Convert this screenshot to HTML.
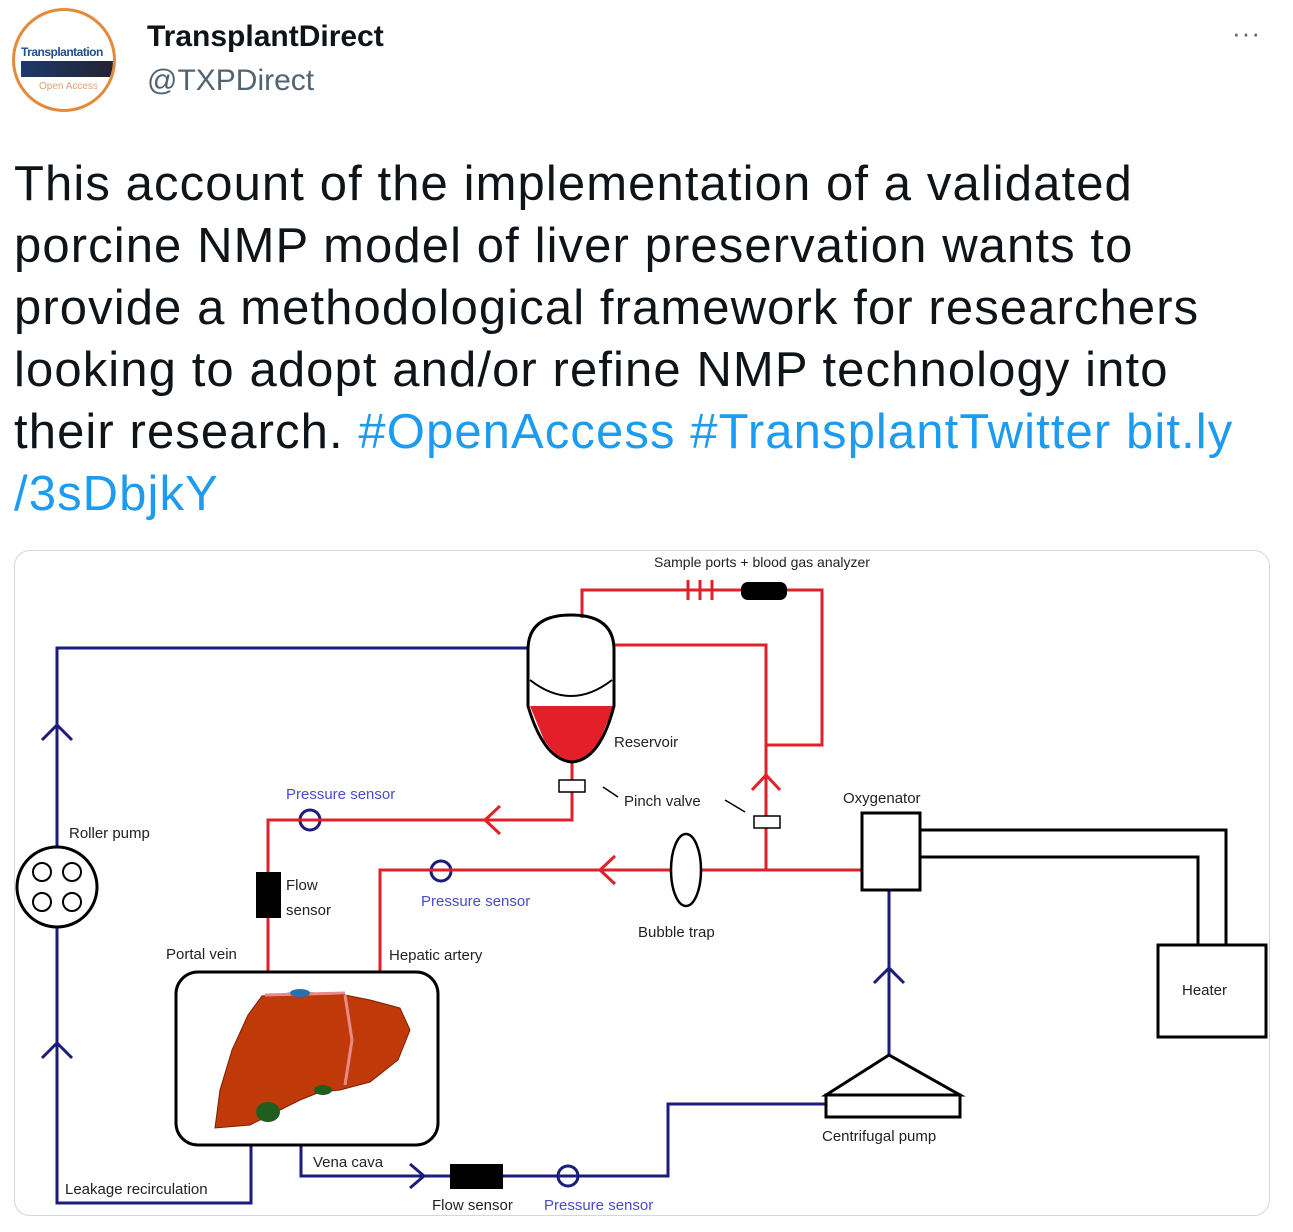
<!DOCTYPE html>
<html><head><meta charset="utf-8"><style>
body{margin:0;width:1293px;height:1232px;background:#fff;font-family:"Liberation Sans",sans-serif;position:relative;overflow:hidden}
.t{position:absolute;left:14px;top:153px;font-size:49px;letter-spacing:1.1px;line-height:62px;color:#0f1419;white-space:nowrap}
.t a{color:#1d9bf0;text-decoration:none}
</style></head><body>
<div style="position:absolute;left:12px;top:8px;width:104px;height:104px;border-radius:50%;border:3px solid #e48a3b;box-sizing:border-box;background:#fff;overflow:hidden">
<div style="position:absolute;left:6px;top:34px;font-size:12px;font-weight:bold;color:#1f4e8c;letter-spacing:-0.5px">Transplantation</div>
<div style="position:absolute;left:6px;top:50px;width:92px;height:16px;background:linear-gradient(90deg,#1e3a6a,#223);"></div>
<div style="position:absolute;left:24px;top:70px;font-size:10px;color:#e0a070">Open Access</div>
</div>
<div style="position:absolute;left:147px;top:20px;font-size:30px;font-weight:bold;color:#0f1419">TransplantDirect</div>
<div style="position:absolute;left:147px;top:64px;font-size:30px;color:#536471">@TXPDirect</div>
<div style="position:absolute;left:1232px;top:18px;font-size:26px;color:#536471;letter-spacing:1px">···</div>
<div class="t">This account of the implementation of a validated<br>porcine NMP model of liver preservation wants to<br>provide a methodological framework for researchers<br>looking to adopt and/or refine NMP technology into<br>their research. <a>#OpenAccess</a> <a>#TransplantTwitter</a> <a>bit.ly</a><br><a>/3sDbjkY</a></div>
<div style="position:absolute;left:14px;top:550px;width:1256px;height:666px;border:1px solid #cfd9de;border-radius:16px;box-sizing:border-box"></div>
<svg style="position:absolute;left:0;top:0" width="1293" height="1232" font-family="Liberation Sans, sans-serif" font-size="15">
<g fill="none" stroke-width="3" stroke-linejoin="miter">
<g stroke="#1c1c7e">
<polyline points="528,648 57,648 57,1203 251,1203 251,1146"/>
<polyline points="301,1146 301,1176 450,1176"/>
<polyline points="503,1176 668,1176 668,1104 826,1104"/>
<line x1="889" y1="1055" x2="889" y2="890"/>
<polyline points="42,740 57,725 72,740"/><polyline points="42,1058 57,1043 72,1058"/>
<polyline points="874,983 889,968 904,983"/><polyline points="410,1164 424,1176 410,1188"/>
<circle cx="568" cy="1176" r="10"/><circle cx="310" cy="820" r="10"/><circle cx="441" cy="871" r="10"/>
</g>
<g stroke="#e3202a">
<polyline points="862,870 380,870 380,972"/>
<polyline points="572,762 572,820 268,820 268,972"/>
<polyline points="766,870 766,645 614,645"/>
<polyline points="766,745 822,745 822,590 582,590 582,618"/>
<polyline points="615,856 600,870 615,884"/><polyline points="500,806 485,820 500,834"/>
<polyline points="752,790 766,775 780,790"/>
<line x1="688" y1="580" x2="688" y2="600"/><line x1="700" y1="580" x2="700" y2="600"/><line x1="712" y1="580" x2="712" y2="600"/>
<ellipse cx="686" cy="870" rx="15" ry="36" fill="#fff" stroke="#000" stroke-width="2.5"/>
</g>
<path d="M530,706 L614,706 L600,740 Q585,762 572,762 Q559,762 544,740 Z" fill="#e3202a" stroke="none"/>
<g stroke="#000">
<path d="M528,650 Q528,615 571,615 Q614,615 614,650 L614,706 Q600,760 572,762 Q544,760 528,706 Z"/>
<path d="M530,680 Q571,712 612,680" stroke-width="2"/>
<rect x="559" y="780" width="26" height="12" stroke-width="1.5" fill="#fff"/>
<rect x="754" y="816" width="26" height="12" stroke-width="1.5" fill="#fff"/>
<line x1="603" y1="787" x2="618" y2="797" stroke-width="1.5"/><line x1="725" y1="800" x2="745" y2="812" stroke-width="1.5"/>
<rect x="862" y="813" width="58" height="77" fill="#fff"/>
<polyline points="920,830 1226,830 1226,945"/><polyline points="920,857 1198,857 1198,945"/>
<rect x="1158" y="945" width="108" height="92"/>
<polygon points="889,1055 826,1095 960,1095"/><rect x="826" y="1095" width="134" height="22"/>
<rect x="176" y="972" width="262" height="173" rx="22"/>
<circle cx="57" cy="887" r="40" fill="#fff"/>
<circle cx="42" cy="872" r="9" stroke-width="2"/><circle cx="72" cy="872" r="9" stroke-width="2"/>
<circle cx="42" cy="902" r="9" stroke-width="2"/><circle cx="72" cy="902" r="9" stroke-width="2"/>
</g>
</g>
<rect x="741" y="582" width="46" height="18" rx="7" fill="#000"/>
<rect x="256" y="872" width="25" height="46" fill="#000"/>
<rect x="450" y="1164" width="53" height="25" fill="#000"/>
<path d="M262,996 L300,992 L345,995 L370,1000 L400,1008 L410,1030 L398,1060 L370,1082 L340,1090 L320,1092 L300,1100 L280,1110 L250,1125 L215,1128 L220,1090 L232,1050 L248,1015 Z" fill="#bf3a08" stroke="#7a2000" stroke-width="1"/>
<path d="M345,995 L352,1040 L345,1085" fill="none" stroke="#e88a8a" stroke-width="3"/>
<path d="M265,995 L345,993" fill="none" stroke="#e88a8a" stroke-width="3"/>
<ellipse cx="300" cy="993" rx="10" ry="4" fill="#2a6fb0"/>
<ellipse cx="268" cy="1112" rx="12" ry="10" fill="#1f5e1f"/>
<ellipse cx="323" cy="1090" rx="9" ry="5" fill="#1f5e1f"/>
<g fill="#222">
<text x="654" y="567" font-size="14">Sample ports + blood gas analyzer</text>
<text x="614" y="747">Reservoir</text>
<text x="624" y="806">Pinch valve</text>
<text x="843" y="803">Oxygenator</text>
<text x="69" y="838">Roller pump</text>
<text x="286" y="890">Flow</text><text x="286" y="915">sensor</text>
<text x="638" y="937">Bubble trap</text>
<text x="166" y="959">Portal vein</text>
<text x="389" y="960">Hepatic artery</text>
<text x="1182" y="995">Heater</text>
<text x="822" y="1141">Centrifugal pump</text>
<text x="313" y="1167">Vena cava</text>
<text x="65" y="1194">Leakage recirculation</text>
<text x="432" y="1210">Flow sensor</text>
</g>
<g fill="#4a4ad0">
<text x="286" y="799">Pressure sensor</text>
<text x="421" y="906">Pressure sensor</text>
<text x="544" y="1210">Pressure sensor</text>
</g>
</svg>
</body></html>
